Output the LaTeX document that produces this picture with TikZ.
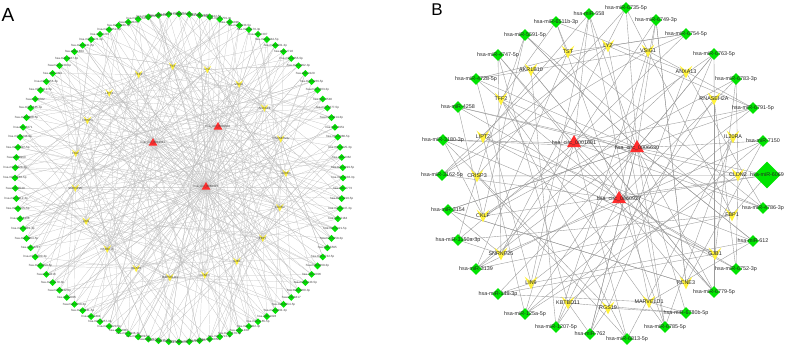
\documentclass[tikz,border=0pt]{standalone}
\usepackage{fontspec}
\setmainfont{Liberation Sans}
\usetikzlibrary{shapes.geometric}

\definecolor{mirgreen}{RGB}{0,228,0}
\definecolor{geneyellow}{RGB}{255,242,60}
\definecolor{circred}{RGB}{255,45,45}
\definecolor{edgegray}{RGB}{155,155,155}

\pgfdeclarelayer{background}
\pgfsetlayers{background,main}

\tikzset{
  mirna/.style={diamond, fill=mirgreen, inner sep=0pt, minimum size=#1},
  mirna/.default=12pt,
  circ/.style={regular polygon, regular polygon sides=3, fill=circred, inner sep=0pt, minimum size=#1},
  circ/.default=16pt,
  gene/.style={inner sep=0pt, minimum size=0pt},
  tag/.style={font=\fontsize{5.4}{6}\selectfont, text=black!85, inner sep=0pt},
  tinytag/.style={font=\fontsize{3}{3.5}\selectfont, text=black!75, inner sep=0pt},
  link/.style={draw=edgegray, line width=0.38pt},
  thinlink/.style={draw=edgegray!65, line width=0.22pt},
}

% V-shaped marker for the mRNA nodes
\newcommand{\genemark}[2]{%
  \fill[geneyellow, shift={(#1.center)}] (-#2,-#2) -- (0,-0.2*#2) -- (#2,-#2) -- (0,#2) -- cycle;
}

\begin{document}
\begin{tikzpicture}[x=1pt, y=-1pt]
        \useasboundingbox (0,0) rectangle (787,348);

        % Panel letters
        \node[font=\fontsize{19}{19}\selectfont, inner sep=0pt] (letterA) at (8,15) {A};
        \node[font=\fontsize{17}{17}\selectfont, inner sep=0pt] (letterB) at (437,10) {B};

        % ---------------- Panel A: whole network ----------------
        \pgfmathsetmacro{\acx}{179}
        \pgfmathsetmacro{\acy}{178}
        \pgfmathsetmacro{\aring}{164}

        % Outer ring of miRNAs
        \foreach \i in {1,...,100}{
            \pgfmathsetmacro{\x}{\acx+\aring*cos(90-3.6*\i)}
            \pgfmathsetmacro{\y}{\acy-\aring*sin(90-3.6*\i)}
            \node[mirna=7pt] (am\i) at (\x,\y) {};
        }

        % Inner ring of mRNAs
        \foreach \k/\t in {1/TST,2/LYZ,3/VSIG1,4/ANXA13,5/RNASEH2A,6/IL20RA,7/CLDN2,
                           8/FBP1,9/GJB1,10/KCNE3,11/MARVELD1,12/RGS19,13/KBTBD11,
                           14/LIN9,15/SNRNP25,16/CKLF,17/CRISP3,18/LIPT2,19/TFF2}{
            \pgfmathsetmacro{\x}{180+106*cos(-94+360*(\k-1)/19)}
            \pgfmathsetmacro{\y}{172+106*sin(-94+360*(\k-1)/19)}
            \node[gene] (ag\k) at (\x,\y) {};
            \genemark{ag\k}{3.8}
        }

        % circRNAs
        \foreach \k/\x/\y in {1/153/143, 2/218/127, 3/206/187}{
            \node[circ=10pt] (ac\k) at (\x,\y) {};
        }

        % Labels of panel A
        \foreach \i in {1,...,100}{
            \pgfmathtruncatemacro{\num}{mod(\i*137+211,5800)+1000}
            \pgfmathtruncatemacro{\sfx}{mod(\i,3)}
            \ifcase\sfx\relax \def\suf{-5p}\or \def\suf{-3p}\or \def\suf{}\fi
            \node[tinytag] (am\i-t) at (am\i) {hsa-miR-\num\suf};
        }
        \foreach \k/\t in {1/TST,2/LYZ,3/VSIG1,4/ANXA13,5/RNASEH2A,6/IL20RA,7/CLDN2,
                           8/FBP1,9/GJB1,10/KCNE3,11/MARVELD1,12/RGS19,13/KBTBD11,
                           14/LIN9,15/SNRNP25,16/CKLF,17/CRISP3,18/LIPT2,19/TFF2}{
            \node[tinytag] (ag\k-t) at (ag\k) {\t};
        }
        \foreach \k/\t in {1/hsa\_circ\_0001681, 2/hsa\_circ\_0006630, 3/hsa\_circ\_0060927}{
            \node[tinytag] (ac\k-t) at (ac\k) {\t};
        }

        % Interactions of panel A
        \begin{pgfonlayer}{background}
            \foreach \i in {1,...,100}{
                \pgfmathtruncatemacro{\ca}{mod(\i,3)+1}
                \pgfmathtruncatemacro{\ga}{mod(3*\i,19)+1}
                \pgfmathtruncatemacro{\gb}{mod(7*\i+5,19)+1}
                \pgfmathtruncatemacro{\gc}{mod(11*\i+2,19)+1}
                \draw[thinlink] (am\i.center) -- (ac\ca.center);
                \draw[thinlink] (am\i.center) -- (ag\ga.center);
                \draw[thinlink] (am\i.center) -- (ag\gb.center);
                \ifodd\i\relax
                    \draw[thinlink] (am\i.center) -- (ag\gc.center);
                \else
                    \draw[thinlink] (am\i.center) -- (ac3.center);
                \fi
            }
        \end{pgfonlayer}

        % ---------------- Panel B: sub-network ----------------
        % miRNAs
        \foreach \i/\x/\y/\s/\t in {
            1/626/8/12pt/hsa-miR-6735-5p, 2/656/20/12pt/hsa-miR-6749-3p,
            3/686/34/12pt/hsa-miR-6754-5p, 4/714/54/12pt/hsa-miR-6763-5p,
            5/736/79/12pt/hsa-miR-6783-3p, 6/753/108/12pt/hsa-miR-6791-5p,
            7/763/141/12pt/hsa-miR-7150, 8/767/175/27pt/hsa-miR-6069,
            9/763/208/12pt/hsa-miR-4786-3p, 10/753/241/12pt/hsa-miR-612,
            11/736/269/12pt/hsa-miR-6752-3p, 12/714/292/12pt/hsa-miR-6779-5p,
            13/686/313/12pt/hsa-miR-6780b-5p, 14/665/327/12pt/hsa-miR-6785-5p,
            15/627/339/12pt/hsa-miR-6813-5p, 16/590/334/12pt/hsa-miR-762,
            17/556/327/12pt/hsa-miR-1207-5p, 18/525/314/12pt/hsa-miR-125a-5p,
            19/498/294/12pt/hsa-miR-149-3p, 20/476/269/12pt/hsa-miR-3139,
            21/458/240/12pt/hsa-miR-3150a-3p, 22/448/210/12pt/hsa-miR-3154,
            23/442/175/12pt/hsa-miR-3162-5p, 24/443/140/12pt/hsa-miR-3180-3p,
            25/458/107/12pt/hsa-miR-4258, 26/476/79/12pt/hsa-miR-4728-5p,
            27/498/55/12pt/hsa-miR-4747-5p, 28/525/35/12pt/hsa-miR-5591-5p,
            29/556/22/12pt/hsa-miR-6511b-3p, 30/589/14/12pt/hsa-miR-658}{
            \node[mirna=\s] (bm\i) at (\x,\y) {};
            \node[tag] (bm\i-t) at (bm\i) {\t};
        }

        % mRNAs
        \foreach \k/\x/\y/\t in {
            1/568/52/TST, 2/608/46/LYZ, 3/648/51/VSIG1, 4/686/72/ANXA13,
            5/714/99/RNASEH2A, 6/733/137/IL20RA, 7/738/175/CLDN2, 8/732/215/FBP1,
            9/715/254/GJB1, 10/686/283/KCNE3, 11/649/302/MARVELD1, 12/608/308/RGS19,
            13/568/303/KBTBD11, 14/531/283/LIN9, 15/501/254/SNRNP25, 16/483/216/CKLF,
            17/477/176/CRISP3, 18/483/137/LIPT2, 19/501/99/TFF2, 20/531/70/AKR1B10}{
            \node[gene] (bg\k) at (\x,\y) {};
            \genemark{bg\k}{6.3}
            \node[tag] (bg\k-t) at (bg\k) {\t};
        }

        % circRNAs
        \foreach \k/\x/\y/\t in {1/574/143/hsa\_circ\_0001681, 2/637/148/hsa\_circ\_0006630,
                                 3/619/199/hsa\_circ\_0060927}{
            \node[circ] (bc\k) at (\x,\y) {};
            \node[tag] (bc\k-t) at (bc\k) {\t};
        }

        % Interactions of panel B
        \begin{pgfonlayer}{background}
            \foreach \i in {1,...,30}{
                \pgfmathtruncatemacro{\ca}{mod(\i,3)+1}
                \pgfmathtruncatemacro{\ga}{mod(7*\i,20)+1}
                \pgfmathtruncatemacro{\gb}{mod(13*\i+3,20)+1}
                \pgfmathtruncatemacro{\gc}{mod(3*\i+11,20)+1}
                \pgfmathtruncatemacro{\gd}{mod(11*\i+7,20)+1}
                \draw[link] (bm\i.center) -- (bc\ca.center);
                \draw[link] (bm\i.center) -- (bg\ga.center);
                \draw[link] (bm\i.center) -- (bg\gb.center);
                \ifodd\i\relax
                    \draw[link] (bm\i.center) -- (bg\gc.center);
                \else
                    \draw[link] (bm\i.center) -- (bc2.center);
                    \draw[link] (bm\i.center) -- (bg\gd.center);
                \fi
            }
        \end{pgfonlayer}

    \end{tikzpicture}
\end{document}
